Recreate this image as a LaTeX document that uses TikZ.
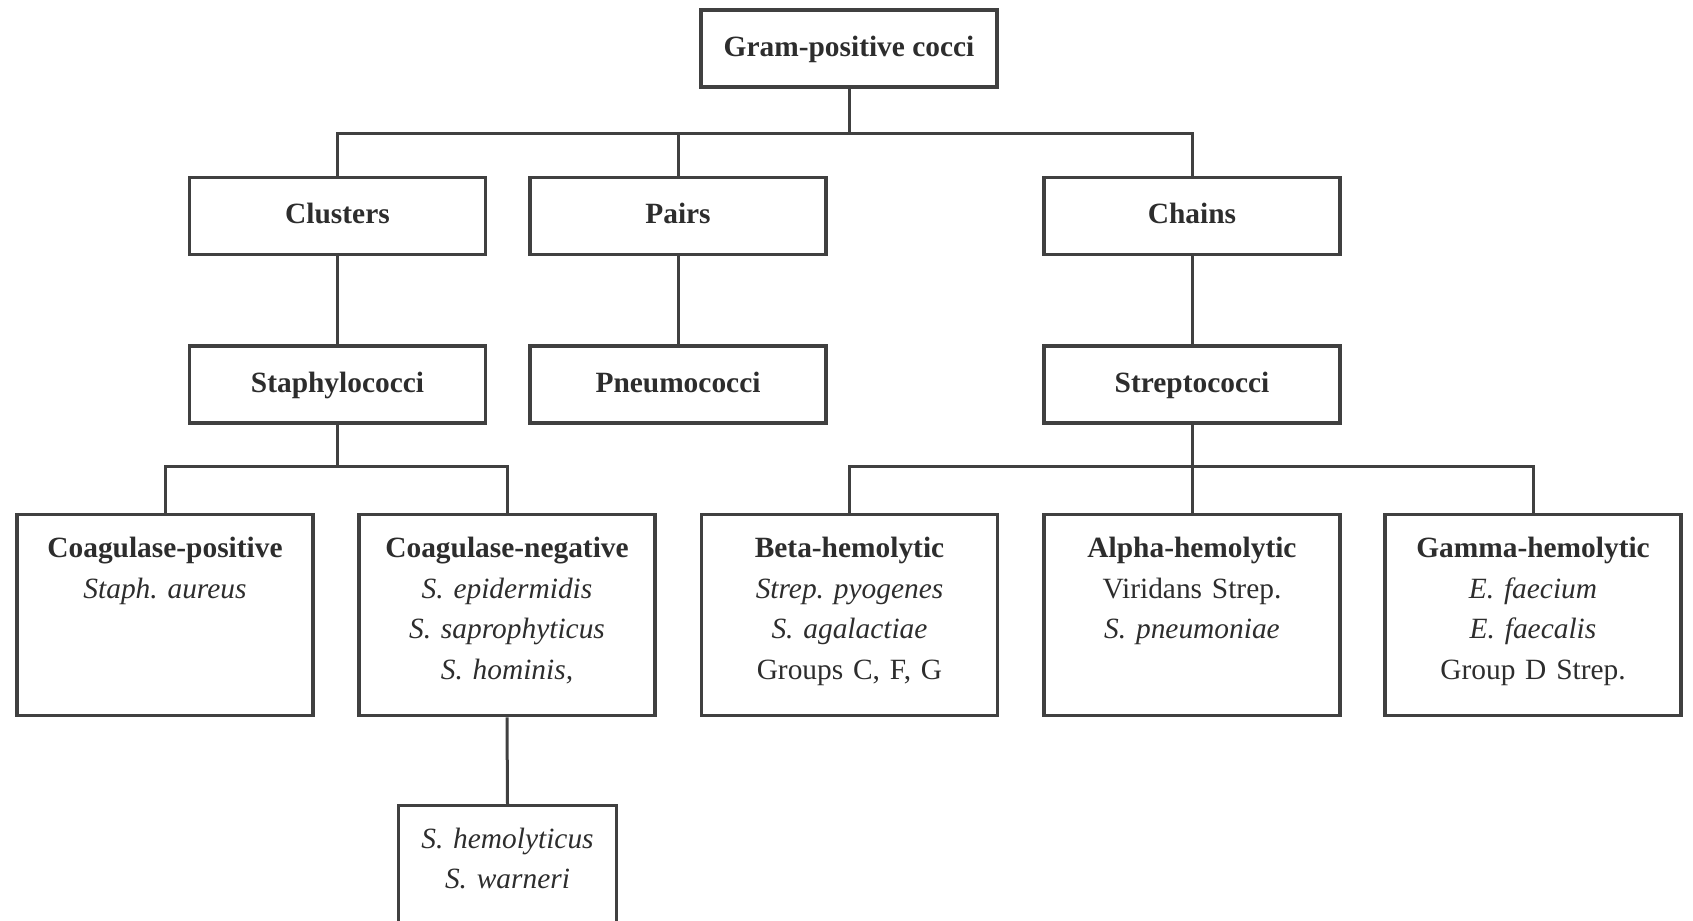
\documentclass[tikz,border=0pt]{standalone}
\usepackage{fontspec}
\setmainfont{Liberation Serif}
\frenchspacing
\definecolor{ln}{RGB}{64,64,64}
\definecolor{txt}{RGB}{45,45,45}
\tikzset{
  box/.style={draw=ln, line width=1.7pt, rectangle, text=txt,
    font=\fontsize{14.7}{20.25}\selectfont, inner sep=0pt},
  topbox/.style={box, minimum width=148pt, minimum height=38.5pt,
    text height=11.5pt, text depth=3.7pt},
  leafbox/.style={box, text width=148pt, align=center, anchor=north,
    text height=21.6pt, text depth=78.9pt},
  lowbox/.style={box, text width=109pt, align=center, anchor=north,
    text height=21.3pt, text depth=60pt},
  conn/.style={draw=ln, line width=1.5pt, line join=miter}
}
\begin{document}
\begin{tikzpicture}[x=0.5pt, y=-0.5pt]
\useasboundingbox (0,0) rectangle (1693,921);
\clip (0,0) rectangle (1693,921);
% level 0
\node[topbox] (root) at (849,48.5) {\textbf{Gram-positive cocci}};
% level 1
\node[topbox] (clusters) at (337.5,216) {\textbf{Clusters}};
\node[topbox] (pairs) at (678,216) {\textbf{Pairs}};
\node[topbox] (chains) at (1192,216) {\textbf{Chains}};
% level 2
\node[topbox] (staph) at (337.5,384.5) {\textbf{Staphylococci}};
\node[topbox] (pneumo) at (678,384.5) {\textbf{Pneumococci}};
\node[topbox] (strepto) at (1192,384.5) {\textbf{Streptococci}};
% level 3
\node[leafbox] (coagpos) at (165,513) {\textbf{Coagulase-positive}\\ \textit{Staph. aureus}};
\node[leafbox] (coagneg) at (507,513) {\textbf{Coagulase-negative}\\ \textit{S. epidermidis}\\ \textit{S. saprophyticus}\\ \textit{S. hominis,}};
\node[leafbox] (beta) at (849.5,513) {\textbf{Beta-hemolytic}\\ \textit{Strep. pyogenes}\\ \textit{S. agalactiae}\\ Groups C, F, G};
\node[leafbox] (alpha) at (1192,513) {\textbf{Alpha-hemolytic}\\ Viridans Strep.\\ \textit{S. pneumoniae}};
\node[leafbox] (gamma) at (1533,513) {\textbf{Gamma-hemolytic}\\ \textit{E. faecium}\\ \textit{E. faecalis}\\ Group D Strep.};
% level 4
\node[lowbox] (low) at (507.5,804) {\textit{S. hemolyticus}\\ \textit{S. warneri}};
% bus coordinates
\coordinate (b1) at (0,133);
\coordinate (b2) at (0,466.5);
% connectors
\draw[conn] (root.south) -- (root.south |- b1);
\draw[conn] (clusters.north) -- (clusters.north |- b1) -- (chains.north |- b1) -- (chains.north);
\draw[conn] (pairs.north) -- (pairs.north |- b1);
\draw[conn] (clusters.south) -- (staph.north);
\draw[conn] (pairs.south) -- (pneumo.north);
\draw[conn] (chains.south) -- (strepto.north);
\draw[conn] (staph.south) -- (staph.south |- b2);
\draw[conn] (coagpos.north) -- (coagpos.north |- b2) -- (coagneg.north |- b2) -- (coagneg.north);
\draw[conn] (strepto.south) -- (strepto.south |- b2);
\draw[conn] (beta.north) -- (beta.north |- b2) -- (gamma.north |- b2) -- (gamma.north);
\draw[conn] (alpha.north) -- (alpha.north |- b2);
\draw[conn] (coagneg.south) -- (low.north);
\end{tikzpicture}
\end{document}
